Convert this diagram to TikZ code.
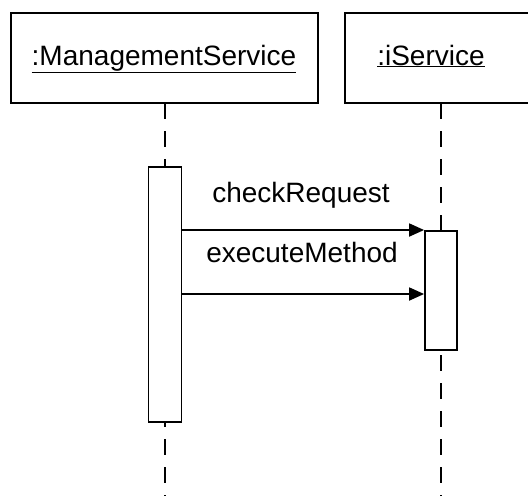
\documentclass[tikz,border=0pt]{standalone}
\usepackage{fontspec}
\setmainfont{Liberation Sans}
\usetikzlibrary{arrows.meta}
\begin{document}
\begin{tikzpicture}[x=1pt,y=-1pt,
  objbox/.style={draw=black,line width=2.2pt,fill=white},
  actbox/.style={draw=black,line width=1.8pt,fill=white},
  lifeline/.style={draw=black,line width=2pt,dash pattern=on 16pt off 12pt},
  msg/.style={draw=black,line width=1.8pt,-{Triangle[length=15pt,width=13pt]}},
  lbl/.style={font=\fontsize{28}{31}\selectfont,inner sep=0pt,anchor=base}]
\useasboundingbox (0,0) rectangle (528,496);
\clip (0,0) rectangle (528,496);
\fill[white] (0,0) rectangle (528,496);
% lifelines
\coordinate (l1top) at (165,103);
\coordinate (l1bot) at (165,496);
\coordinate (l2top) at (441,103);
\coordinate (l2bot) at (441,496);
\draw[lifeline] (l1top) -- (l1bot);
\draw[lifeline] (l2top) -- (l2bot);
% object boxes
\draw[objbox] (11,13) rectangle (318,103);
\draw[objbox] (345,13) rectangle (540,103);
\node[lbl] (ms) at (164,65) {\underline{:ManagementService}};
\node[lbl] (is) at (431,65) {\underline{:iService}};
% activations
\node[actbox,minimum width=33pt,minimum height=255pt,inner sep=0pt,anchor=north] (a1) at (165,166) {};
\node[actbox,minimum width=32pt,minimum height=119pt,inner sep=0pt,anchor=north] (a2) at (441,230) {};
% messages
\draw[msg] (a1.east |- 0,230) -- (a2.west |- 0,230);
\draw[msg] (a1.east |- 0,294) -- (a2.west |- 0,294);
\node[lbl] (m1) at (301,202) {checkRequest};
\node[lbl] (m2) at (302,262) {executeMethod};
\end{tikzpicture}
\end{document}
